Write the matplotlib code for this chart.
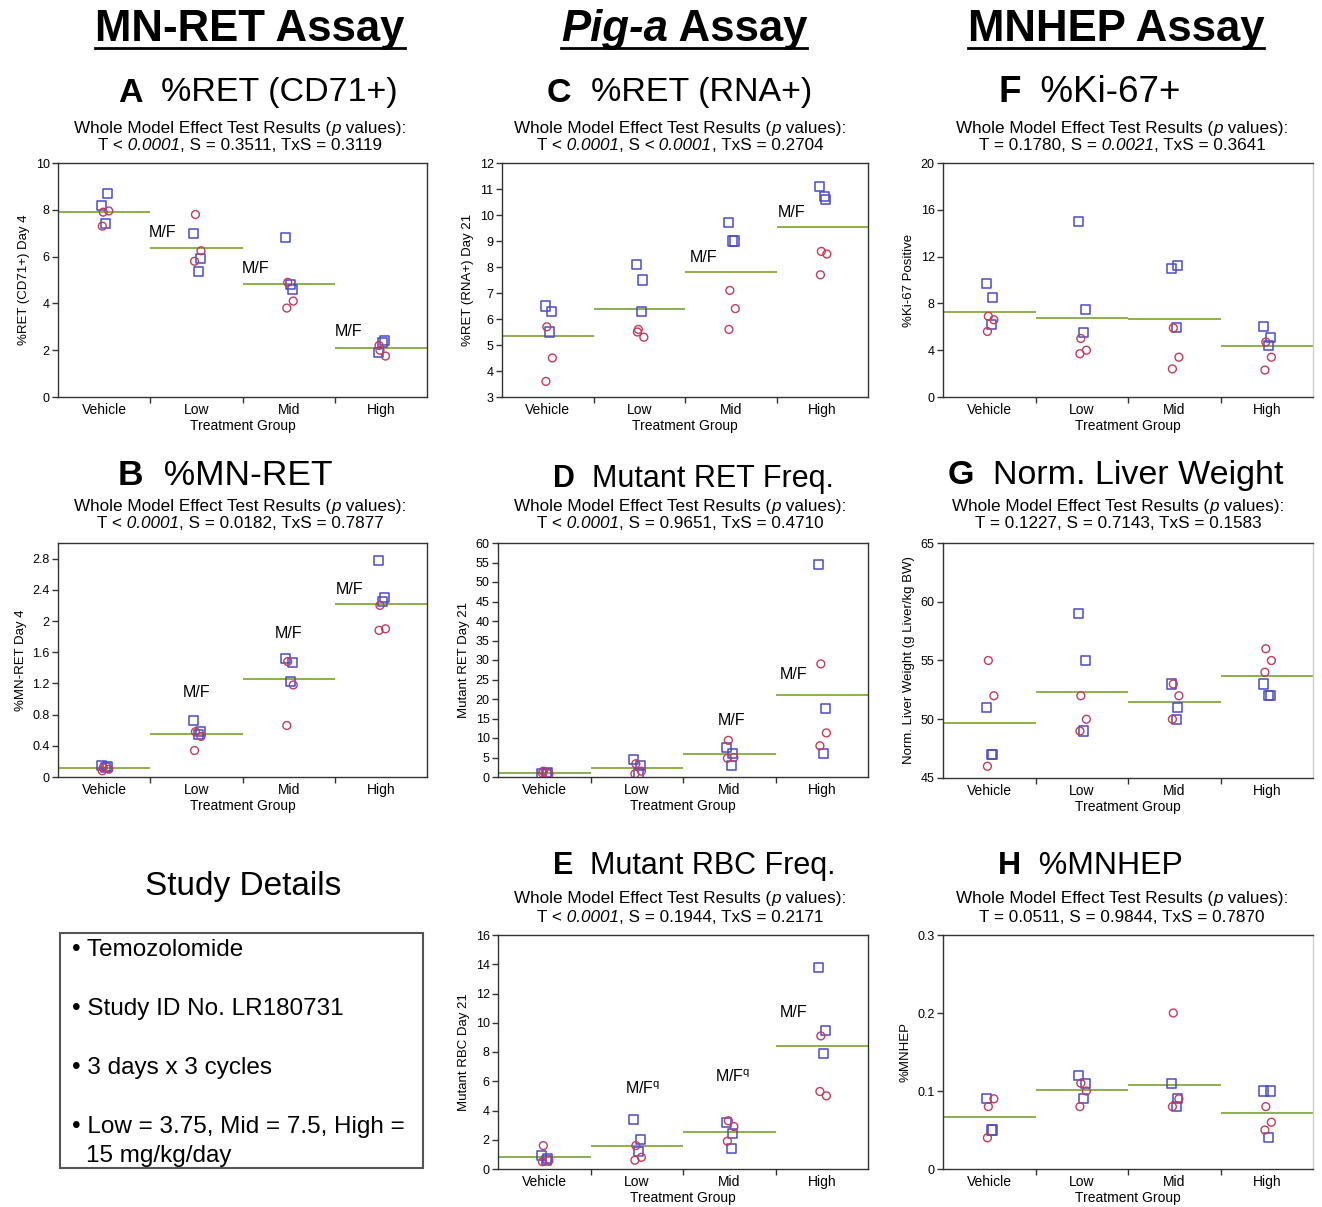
import numpy as np
import matplotlib.pyplot as plt
from matplotlib.lines import Line2D
from matplotlib.patches import Rectangle

plt.rcParams['font.family'] = ['Liberation Sans', 'DejaVu Sans']
plt.rcParams['mathtext.fontset'] = 'custom'
plt.rcParams['mathtext.rm'] = 'Liberation Sans'
plt.rcParams['mathtext.it'] = 'Liberation Sans:italic'
plt.rcParams['mathtext.bf'] = 'Liberation Sans:bold'

W, H = 1322, 1207
groups = ["Vehicle", "Low", "Mid", "High"]

# per group values: males (squares) and females (circles)
ret_cd71_m = [[8.2, 8.7, 7.4], [7.0, 5.9, 5.35], [6.8, 4.6, 4.8], [1.9, 2.4, 2.35]]
ret_cd71_f = [[7.9, 7.95, 7.3], [7.8, 6.25, 5.8], [4.9, 4.1, 3.8], [2.0, 1.75, 2.2]]

mn_ret_m = [[0.15, 0.13, 0.12], [0.72, 0.58, 0.55], [1.52, 1.47, 1.22], [2.77, 2.30, 2.25]]
mn_ret_f = [[0.12, 0.10, 0.08], [0.58, 0.52, 0.34], [1.48, 1.18, 0.66], [2.20, 1.90, 1.88]]

ret_rna_m = [[6.5, 6.3, 5.5], [8.1, 7.5, 6.3], [9.7, 9.0, 9.0], [11.1, 10.6, 10.7]]
ret_rna_f = [[5.7, 4.5, 3.6], [5.6, 5.3, 5.5], [7.1, 6.4, 5.6], [8.6, 8.5, 7.7]]

mut_ret_m = [[0.8, 1.2, 1.0], [4.5, 3.0, 1.0], [7.5, 6.0, 3.0], [54.5, 17.5, 6.0]]
mut_ret_f = [[1.5, 0.8, 1.0], [3.4, 1.5, 0.8], [9.4, 5.0, 4.8], [29.0, 11.3, 8.0]]

mut_rbc_m = [[0.9, 0.7, 0.6], [3.4, 2.0, 1.2], [3.2, 2.4, 1.4], [13.8, 9.5, 7.9]]
mut_rbc_f = [[1.6, 0.6, 0.5], [1.6, 0.8, 0.6], [3.3, 2.9, 1.9], [9.1, 5.0, 5.3]]

ki67_m = [[9.7, 8.5, 6.2], [15.0, 7.5, 5.5], [11.0, 11.2, 5.9], [6.0, 5.1, 4.4]]
ki67_f = [[6.9, 6.6, 5.6], [5.0, 4.0, 3.7], [5.9, 3.4, 2.4], [4.7, 3.4, 2.3]]

liver_m = [[51, 47, 47], [59, 55, 49], [53, 51, 50], [53, 52, 52]]
liver_f = [[55, 52, 46], [52, 50, 49], [53, 52, 50], [56, 55, 54]]

mnhep_m = [[0.09, 0.05, 0.05], [0.12, 0.11, 0.09], [0.11, 0.09, 0.08], [0.10, 0.10, 0.04]]
mnhep_f = [[0.08, 0.09, 0.04], [0.11, 0.10, 0.08], [0.20, 0.09, 0.08], [0.08, 0.06, 0.05]]

SQ_COLOR = '#4a4ac8'
CI_COLOR = '#c23c5c'
MEAN_COLOR = '#8db04a'
sq_jit = [-0.03, 0.04, 0.02]
ci_jit = [-0.01, 0.05, -0.02]

fig = plt.figure(figsize=(W / 100, H / 100), dpi=100)
fig.patch.set_facecolor('white')


def fx(px):
    return px / W


def fy(py):
    return 1 - py / H


def rich_text(x, y, pieces, size, ha='center'):
    texts = [fig.text(0, 0, s, fontsize=size, va='center', ha='left', **kw) for s, kw in pieces]
    r = fig.canvas.get_renderer()
    widths = [t.get_window_extent(r).width for t in texts]
    total = sum(widths)
    x0 = x - total / 2 if ha == 'center' else x
    start = x0
    for t, w in zip(texts, widths):
        t.set_position((fx(x0), fy(y)))
        x0 += w
    return start, x0


def panel(box, males, females, ylim, yticks, ylabel, labels=(), right_grey=False):
    l, r, t, b = box
    ax = fig.add_axes([fx(l), fy(b), (r - l) / W, (b - t) / H])
    for i in range(4):
        m = males[i]
        f = females[i]
        ax.scatter([i + j for j in sq_jit[:len(m)]], m, marker='s', s=42,
                   facecolors='none', edgecolors=SQ_COLOR, linewidths=1.1, zorder=3)
        ax.scatter([i + j for j in ci_jit[:len(f)]], f, marker='o', s=32,
                   facecolors='none', edgecolors=CI_COLOR, linewidths=1.0, zorder=3)
        ax.hlines(np.mean(m + f), i - 0.5, i + 0.5, color=MEAN_COLOR, lw=1.4, zorder=2)
    for lx, ly, s in labels:
        ax.text(lx, ly, s, fontsize=11.5, ha='center', va='center')
    ax.set_xlim(-0.5, 3.5)
    ax.set_ylim(*ylim)
    ax.set_yticks(yticks)
    ax.set_yticklabels([f"{v:g}" for v in yticks])
    ax.set_xticks(range(4))
    ax.set_xticklabels(groups)
    ax.set_xticks([0.5, 1.5, 2.5], minor=True)
    ax.tick_params(axis='x', which='major', length=0, labelsize=10, pad=4)
    ax.tick_params(axis='x', which='minor', length=4, width=1, color='#333333')
    ax.tick_params(axis='y', length=4, width=1, labelsize=9, color='#333333', pad=2)
    ax.set_xlabel("Treatment Group", fontsize=10, labelpad=2)
    ax.set_ylabel(ylabel, fontsize=9.5, labelpad=4)
    for sp in ax.spines.values():
        sp.set_color('#333333')
        sp.set_linewidth(1.0)
    if right_grey:
        ax.spines['right'].set_color('#cccccc')
    return ax


panel((58, 427, 163, 397), ret_cd71_m, ret_cd71_f, (0, 10), [0, 2, 4, 6, 8, 10],
      "%RET (CD71+) Day 4",
      [(0.63, 7.05, "M/F"), (1.64, 5.5, "M/F"), (2.65, 2.8, "M/F")])
panel((58, 427, 543, 777), mn_ret_m, mn_ret_f, (0, 3.0),
      [0, 0.4, 0.8, 1.2, 1.6, 2.0, 2.4, 2.8], "%MN-RET Day 4",
      [(1.0, 1.08, "M/F"), (2.0, 1.84, "M/F"), (2.66, 2.41, "M/F")])
panel((502, 868, 163, 397), ret_rna_m, ret_rna_f, (3, 12), list(range(3, 13)),
      "%RET (RNA+) Day 21",
      [(1.70, 8.38, "M/F"), (2.67, 10.1, "M/F")])
panel((498, 868, 543, 777), mut_ret_m, mut_ret_f, (0, 60), list(range(0, 61, 5)),
      "Mutant RET Day 21",
      [(2.03, 14.6, "M/F"), (2.69, 26.4, "M/F")])
panel((498, 868, 935, 1169), mut_rbc_m, mut_rbc_f, (0, 16), list(range(0, 17, 2)),
      "Mutant RBC Day 21",
      [(1.06, 5.5, r"M/F$^{\rm q}$"), (2.04, 6.3, r"M/F$^{\rm q}$"), (2.7, 10.7, "M/F")])
panel((943, 1313, 163, 397), ki67_m, ki67_f, (0, 20), [0, 4, 8, 12, 16, 20],
      "%Ki-67 Positive", right_grey=True)
panel((943, 1313, 543, 778), liver_m, liver_f, (45, 65), [45, 50, 55, 60, 65],
      "Norm. Liver Weight (g Liver/kg BW)", right_grey=True)
panel((943, 1313, 935, 1169), mnhep_m, mnhep_f, (0, 0.3), [0, 0.1, 0.2, 0.3],
      "%MNHEP", right_grey=True)

# column headings, underlined
for cx, pieces in [
        (250, [("MN-RET Assay", dict(weight='bold'))]),
        (684, [("Pig-a", dict(weight='bold', style='italic')), (" Assay", dict(weight='bold'))]),
        (1116, [("MNHEP Assay", dict(weight='bold'))])]:
    x0, x1 = rich_text(cx, 29, pieces, 31.5)
    fig.add_artist(Line2D([fx(x0), fx(x1)], [fy(48), fy(48)], color='black', lw=2.0))

# panel titles
titles = [
    (118, 93, "A", "  %RET (CD71+)", 24.5),
    (547, 93, "C", "  %RET (RNA+)", 24.5),
    (998, 93, "F", "  %Ki-67+", 26.5),
    (118, 476, "B", "  %MN-RET", 25.5),
    (553, 479, "D", "  Mutant RET Freq.", 22),
    (948, 476, "G", "  Norm. Liver Weight", 24.5),
    (553, 866, "E", "  Mutant RBC Freq.", 22),
    (998, 866, "H", "  %MNHEP", 23),
]
for x, y, letter, name, size in titles:
    rich_text(x, y, [(letter, dict(weight='bold')), (name, {})], size, ha='left')

# effect test p values
REG = {}
IT = dict(style='italic')
stats = [
    (240, 128, [("T <", REG), (" 0.0001", IT), (", S = 0.3511, TxS = 0.3119", REG)]),
    (680, 128, [("T <", REG), (" 0.0001", IT), (", S <", REG), (" 0.0001", IT), (", TxS = 0.2704", REG)]),
    (1122, 128, [("T = 0.1780, S =", REG), (" 0.0021", IT), (", TxS = 0.3641", REG)]),
    (240, 506, [("T <", REG), (" 0.0001", IT), (", S = 0.0182, TxS = 0.7877", REG)]),
    (680, 506, [("T <", REG), (" 0.0001", IT), (", S = 0.9651, TxS = 0.4710", REG)]),
    (1118, 506, [("T = 0.1227, S = 0.7143, TxS = 0.1583", REG)]),
    (680, 899, [("T <", REG), (" 0.0001", IT), (", S = 0.1944, TxS = 0.2171", REG)]),
    (1122, 899, [("T = 0.0511, S = 0.9844, TxS = 0.7870", REG)]),
]
for cx, y, line2 in stats:
    rich_text(cx, y, [("Whole Model Effect Test Results (", REG), ("p", IT), (" values):", REG)], 12.3)
    rich_text(cx, y + 18, line2, 12.3)

# study details box
fig.text(fx(243), fy(886), "Study Details", fontsize=24, ha='center', va='center')
fig.add_artist(Rectangle((fx(60), fy(1168)), (423 - 60) / W, (1168 - 933) / H,
                         transform=fig.transFigure, fill=False, ec='#555555', lw=1.5))
details = [
    (72, 950, "\u2022 Temozolomide"),
    (72, 1009, "\u2022 Study ID No. LR180731"),
    (72, 1068, "\u2022 3 days x 3 cycles"),
    (72, 1127, "\u2022 Low = 3.75, Mid = 7.5, High ="),
    (86, 1156, "15 mg/kg/day"),
]
for x, y, s in details:
    fig.text(fx(x), fy(y), s, fontsize=17.5, ha='left', va='center')

fig.savefig("out.png", dpi=100)
